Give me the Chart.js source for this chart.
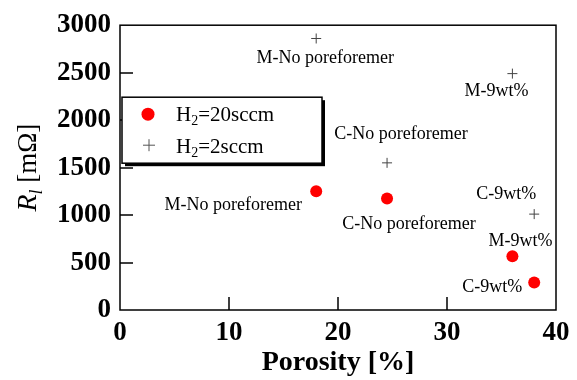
<!DOCTYPE html>
<html>
<head>
<meta charset="utf-8">
<script src="https://cdn.jsdelivr.net/npm/chart.js@4"></script>
<style>body{margin:0;background:#fff}</style>
</head>
<body>
<canvas id="c" width="577" height="380"></canvas>
<script>
// H2 = 20 sccm
var porosity20 = [18, 24.5, 36, 38]
var rl20 = [1250, 1175, 565, 290]
var names20 = ['M-No poreforemer', 'C-No poreforemer', 'M-9wt%', 'C-9wt%']
// H2 = 2 sccm
var porosity2 = [18, 36, 24.5, 38]
var rl2 = [2860, 2490, 1550, 1010]
var names2 = ['M-No poreforemer', 'M-9wt%', 'C-No poreforemer', 'C-9wt%']

var xTicks = [0, 10, 20, 30, 40]
var yTicks = [0, 500, 1000, 1500, 2000, 2500, 3000]

function pts(xs, ys){
    var out = []
    for (var i = 0; i < xs.length; i++) out.push({x: xs[i], y: ys[i]})
    return out
}

var serif = "'Liberation Serif', 'Times New Roman', serif"

// text offsets (px) of the point labels from their point
var off20 = [[-83, 14], [22, 26], [8, -15], [-42, 5]]
var off2 = [[9, 20], [-16, 18], [14, -29], [-28, -20]]

function subText(ctx, x, y, parts){
    // parts: [text, font, dy]
    parts.forEach(function(p){
        ctx.font = p[1]
        ctx.fillText(p[0], x, y + p[2])
        x += ctx.measureText(p[0]).width
    })
    return x
}
function partsWidth(ctx, parts){
    var w = 0
    parts.forEach(function(p){ ctx.font = p[1]; w += ctx.measureText(p[0]).width })
    return w
}

var deco = {
    id: 'deco',
    afterDraw: function(chart){
        var ctx = chart.ctx, a = chart.chartArea
        var xs = chart.scales.x, ys = chart.scales.y
        ctx.save()
        ctx.strokeStyle = '#000'
        ctx.lineWidth = 1.5
        ctx.strokeRect(a.left, a.top, a.right - a.left, a.bottom - a.top)

        // inward tick marks
        ctx.beginPath()
        xTicks.slice(1, -1).forEach(function(v){
            var p = Math.round(xs.getPixelForValue(v))
            ctx.moveTo(p, a.bottom); ctx.lineTo(p, a.bottom - 13)
        })
        yTicks.slice(1, -1).forEach(function(v){
            var p = Math.round(ys.getPixelForValue(v))
            ctx.moveTo(a.left, p); ctx.lineTo(a.left + 13, p)
        })
        ctx.stroke()

        // point labels
        ctx.fillStyle = '#000'
        ctx.font = '18px ' + serif
        ctx.textAlign = 'center'
        ctx.textBaseline = 'middle'
        names20.forEach(function(n, i){
            ctx.fillText(n, xs.getPixelForValue(porosity20[i]) + off20[i][0], ys.getPixelForValue(rl20[i]) + off20[i][1])
        })
        names2.forEach(function(n, i){
            ctx.fillText(n, xs.getPixelForValue(porosity2[i]) + off2[i][0], ys.getPixelForValue(rl2[i]) + off2[i][1])
        })

        // legend box
        var lx = a.left + 2, ly = a.top + 72, lw = 200, lh = 66
        ctx.fillStyle = '#000'
        ctx.fillRect(lx + 3, ly + 3, lw, lh)
        ctx.fillStyle = '#fff'
        ctx.fillRect(lx, ly, lw, lh)
        ctx.lineWidth = 1.5
        ctx.strokeRect(lx, ly, lw, lh)

        ctx.fillStyle = '#ff0000'
        ctx.beginPath()
        ctx.arc(lx + 26, ly + 17, 6.5, 0, Math.PI * 2)
        ctx.fill()
        ctx.strokeStyle = '#555'
        ctx.lineWidth = 1
        ctx.beginPath()
        ctx.moveTo(lx + 21, ly + 48); ctx.lineTo(lx + 33, ly + 48)
        ctx.moveTo(lx + 27, ly + 42); ctx.lineTo(lx + 27, ly + 54)
        ctx.stroke()

        ctx.fillStyle = '#000'
        ctx.textAlign = 'left'
        ctx.textBaseline = 'alphabetic'
        var f = '21px ' + serif, fs = '14px ' + serif
        subText(ctx, lx + 54, ly + 24, [['H', f, 0], ['2', fs, 4], ['=20sccm', f, 0]])
        subText(ctx, lx + 54, ly + 56, [['H', f, 0], ['2', fs, 4], ['=2sccm', f, 0]])

        // y axis title
        var yp = [['R', 'italic 28px ' + serif, 0], ['l', 'italic 18px ' + serif, 6], [' [m\u03A9]', '27px ' + serif, 0]]
        ctx.translate(36, (a.top + a.bottom) / 2)
        ctx.rotate(-Math.PI / 2)
        subText(ctx, -partsWidth(ctx, yp) / 2, 0, yp)
        ctx.restore()
    }
}

var chart = new Chart(document.getElementById('c').getContext('2d'), {
    type: 'scatter',
    data: {
        datasets: [
            {
                label: 'H2=20sccm',
                data: pts(porosity20, rl20),
                pointStyle: 'circle',
                pointRadius: 6,
                backgroundColor: '#ff0000',
                borderColor: '#ff0000',
                borderWidth: 0
            },
            {
                label: 'H2=2sccm',
                data: pts(porosity2, rl2),
                pointStyle: 'cross',
                pointRadius: 5,
                borderColor: '#444',
                borderWidth: 1
            }
        ]
    },
    options: {
        responsive: false,
        animation: false,
        layout: {padding: {top: 19, right: 21, left: 0, bottom: 0}},
        plugins: {legend: {display: false}, tooltip: {enabled: false}},
        scales: {
            x: {
                type: 'linear', min: 0, max: 40,
                afterBuildTicks: function(s){ s.ticks = xTicks.map(function(v){ return {value: v} }) },
                afterFit: function(s){ s.height = 70 },
                grid: {display: false, drawTicks: false},
                border: {display: false},
                ticks: {color: '#000', padding: 7, callback: function(v){ return String(v) },
                    font: {family: serif, size: 27, weight: 'bold'}},
                title: {display: true, text: 'Porosity [%]', color: '#000', padding: {top: 0, bottom: 0},
                    font: {family: serif, size: 28, weight: 'bold'}}
            },
            y: {
                type: 'linear', min: 0, max: 3000,
                afterBuildTicks: function(s){ s.ticks = yTicks.map(function(v){ return {value: v} }) },
                afterFit: function(s){ s.width = 120 },
                grid: {display: false, drawTicks: false},
                border: {display: false},
                ticks: {color: '#000', padding: 9, callback: function(v){ return String(v) },
                    font: {family: serif, size: 27, weight: 'bold'}}
            }
        }
    },
    plugins: [deco]
})
</script>
</body>
</html>
